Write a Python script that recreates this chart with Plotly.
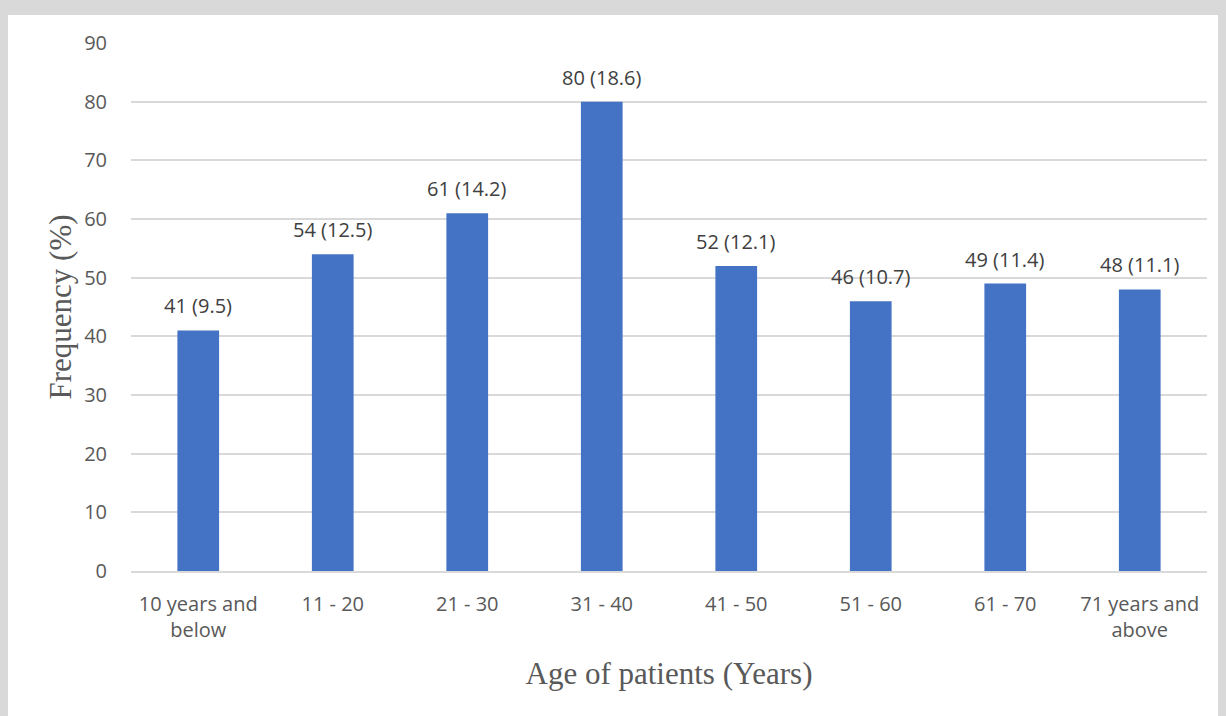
import plotly.graph_objects as go

categories = ["10 years and<br>below", "11 - 20", "21 - 30", "31 - 40", "41 - 50",
              "51 - 60", "61 - 70", "71 years and<br>above"]
frequency = [41, 54, 61, 80, 52, 46, 49, 48]
percent = [9.5, 12.5, 14.2, 18.6, 12.1, 10.7, 11.4, 11.1]
labels = [f"{f} ({p})" for f, p in zip(frequency, percent)]
y_ticks = [0, 10, 20, 30, 40, 50, 60, 70, 80, 90]

W, H = 1226, 716
L, R, T, B = 123, 27, 35, 153

SANS = "Open Sans, Lato, sans-serif"
SERIF = "Liberation Serif, Times New Roman, serif"

fig = go.Figure(go.Bar(
    x=categories, y=frequency,
    marker=dict(color="#4472c4", line=dict(width=0)), width=0.31,
))

for cat, val, lab in zip(categories, frequency, labels):
    fig.add_annotation(x=cat, y=val, text=lab, showarrow=False,
                       xanchor="center", yanchor="bottom", yshift=10, borderpad=0,
                       font=dict(family=SANS, size=20, color="#404040"))

pw, ph = W - L - R, H - T - B
fig.add_shape(type="rect", xref="paper", yref="paper", layer="below",
              x0=(0 - L) / pw, x1=(W - L) / pw + 0.02,
              y0=(H - B - H) / ph - 0.02, y1=(H - B - 7) / ph,
              fillcolor="white", line=dict(width=0))

fig.update_layout(
    width=W, height=H, margin=dict(l=L, r=R, t=T, b=B, pad=0),
    paper_bgcolor="#d9d9d9", plot_bgcolor="white", showlegend=False,
    font=dict(family=SANS, size=20, color="#595959"),
    xaxis=dict(title=dict(text="Age of patients (Years)", standoff=21,
                          font=dict(family=SERIF, size=31, color="#595959")),
               showline=True, linecolor="#d9d9d9", linewidth=1.5,
               ticks="outside", ticklen=14, tickcolor="rgba(0,0,0,0)", showgrid=False),
    yaxis=dict(title=dict(text="Frequency (%)", standoff=3,
                          font=dict(family=SERIF, size=31, color="#595959")),
               range=[0, 90], tickvals=y_ticks, gridcolor="#d9d9d9", gridwidth=1.5,
               zeroline=False, showline=False,
               ticks="outside", ticklen=19, tickcolor="rgba(0,0,0,0)"),
)

fig.write_html("out.html", post_script="document.body.style.backgroundColor='#d9d9d9';")
